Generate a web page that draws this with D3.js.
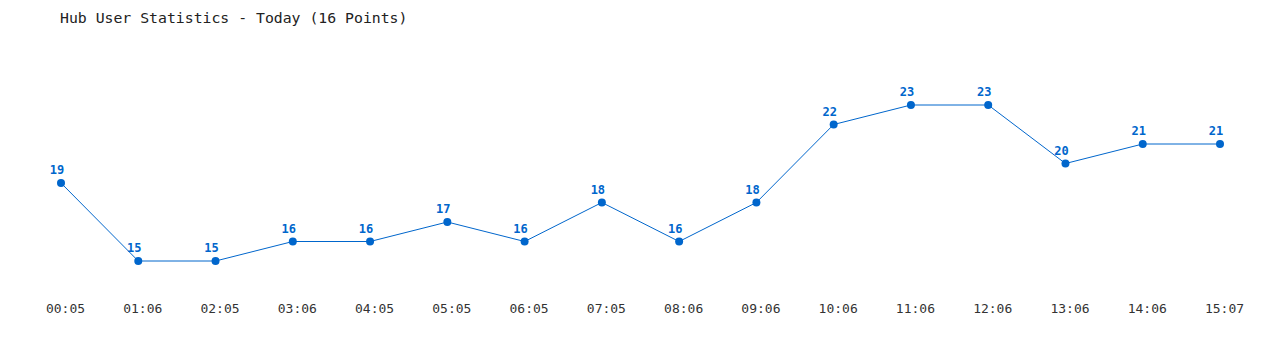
<!DOCTYPE html>
<html><head><meta charset="utf-8">
<script src="https://cdn.jsdelivr.net/npm/d3@7/dist/d3.min.js"></script>
<style>body{margin:0;background:#fff}svg{display:block}</style>
</head><body><svg id="c" width="1280" height="350"></svg>
<script>
const categories = ["00:05","01:06","02:05","03:06","04:05","05:05","06:05","07:05","08:06","09:06","10:06","11:06","12:06","13:06","14:06","15:07"];
const users = [19,15,15,16,16,17,16,18,16,18,22,23,23,20,21,21];
const title = "Hub User Statistics - Today (16 Points)";

const svg = d3.select("#c");
const color = "#0066cc";
const x = d3.scalePoint().domain(categories).range([61, 1220]);
const y = d3.scaleLinear().domain([15, 23]).range([261, 105]);

svg.append("text").attr("x", 60).attr("y", 23)
  .attr("font-family", "DejaVu Sans Mono, monospace").attr("font-size", 14.8)
  .attr("fill", "#222").text(title);

const xAxis = d3.axisBottom(x).tickSize(0).tickPadding(0);
const gx = svg.append("g").attr("transform", "translate(4,308)").call(xAxis);
gx.select(".domain").remove();
gx.selectAll("text").attr("font-family", "DejaVu Sans Mono, monospace")
  .attr("font-size", 13).attr("fill", "#333").attr("dy", "0.35em");

const line = d3.line().x((d,i)=>x(categories[i])).y(d=>y(d));
svg.append("path").datum(users).attr("d", line).attr("fill","none")
  .attr("stroke", color).attr("stroke-width", 1);

svg.selectAll("circle.pt").data(users).join("circle").attr("class","pt")
  .attr("cx",(d,i)=>x(categories[i])).attr("cy",d=>y(d)).attr("r",4).attr("fill",color);

svg.selectAll("text.lbl").data(users).join("text").attr("class","lbl")
  .attr("x",(d,i)=>x(categories[i])-4).attr("y",d=>y(d)-9)
  .attr("text-anchor","middle").attr("font-family","DejaVu Sans Mono, monospace")
  .attr("font-size",12).attr("font-weight","bold").attr("fill",color).text(d=>d);
</script></body></html>
